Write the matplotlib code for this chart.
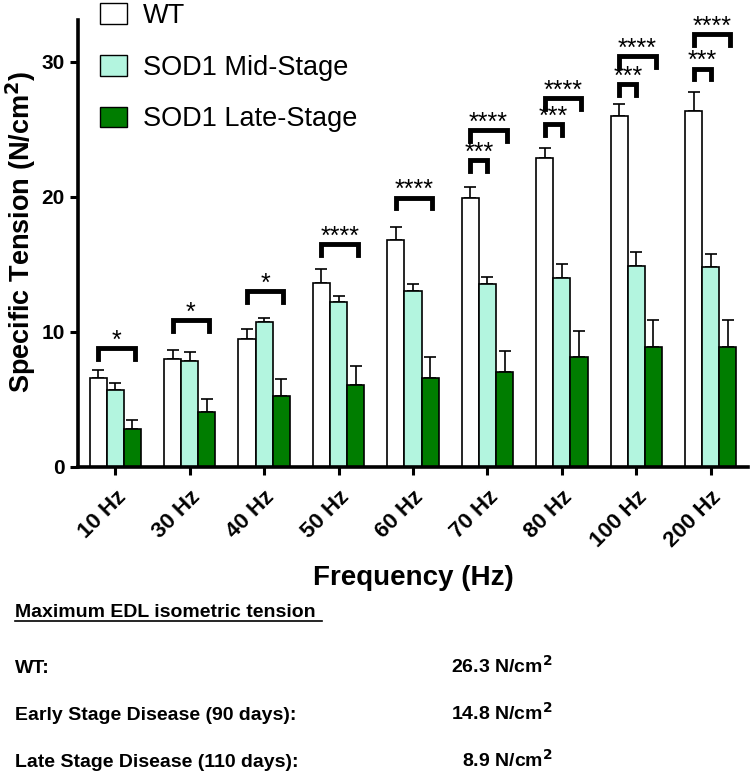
import numpy as np
import matplotlib.pyplot as plt
from matplotlib.patches import Patch
from matplotlib.lines import Line2D

freqs = ['10 Hz', '30 Hz', '40 Hz', '50 Hz', '60 Hz', '70 Hz', '80 Hz', '100 Hz', '200 Hz']
wt = [6.6, 8.0, 9.5, 13.65, 16.8, 19.95, 22.85, 26.0, 26.35]
wt_err = [0.55, 0.65, 0.7, 1.0, 1.0, 0.8, 0.8, 0.9, 1.45]
mid = [5.7, 7.85, 10.75, 12.2, 13.0, 13.55, 14.0, 14.9, 14.8]
mid_err = [0.55, 0.65, 0.3, 0.45, 0.55, 0.55, 1.05, 1.0, 1.0]
late = [2.8, 4.1, 5.25, 6.05, 6.6, 7.05, 8.15, 8.85, 8.85]
late_err = [0.65, 0.9, 1.25, 1.45, 1.55, 1.55, 1.9, 2.0, 2.0]
labels = ['WT', 'SOD1 Mid-Stage', 'SOD1 Late-Stage']
colors = ['white', '#b3f5df', '#007d00']

# (group, from series, to series, bracket height, stars)
sig = [(0, 0, 2, 8.8, '*'), (1, 0, 2, 10.85, '*'), (2, 0, 2, 13.0, '*'),
       (3, 0, 2, 16.5, '****'), (4, 0, 2, 19.95, '****'),
       (5, 0, 1, 22.7, '***'), (5, 0, 2, 24.95, '****'),
       (6, 0, 1, 25.4, '***'), (6, 0, 2, 27.3, '****'),
       (7, 0, 1, 28.35, '***'), (7, 0, 2, 30.45, '****'),
       (8, 0, 1, 29.5, '***'), (8, 0, 2, 32.05, '****')]

summary_rows = ['WT:', 'Early Stage Disease (90 days):', 'Late Stage Disease (110 days):']
summary_vals = ['26.3', '14.8', '8.9']

plt.rcParams['font.family'] = ['Liberation Sans', 'DejaVu Sans']

fig = plt.figure(figsize=(7.54, 7.75), dpi=100)
ax = fig.add_axes([78 / 754, 1 - 467 / 775, 670 / 754, 447 / 775])

x = np.arange(len(freqs))
w = 0.23
series = [(wt, wt_err), (mid, mid_err), (late, late_err)]
for i, (vals, errs) in enumerate(series):
    ax.bar(x + (i - 1) * w, vals, w, color=colors[i], edgecolor='black',
           linewidth=1.2, label=labels[i], zorder=2)
    ax.errorbar(x + (i - 1) * w, vals, yerr=[np.zeros(len(vals)), errs],
                fmt='none', ecolor='black', elinewidth=1.2, capsize=4,
                capthick=1.2, zorder=1)

for g, a, b, h, s in sig:
    x0 = g + (a - 1) * w
    x1 = g + (b - 1) * w + (0.03 if b == 2 else 0)
    ax.plot([x0, x0, x1, x1], [h - 0.8, h, h, h - 0.8], color='black',
            lw=3.5, solid_joinstyle='miter', zorder=3)
    ax.text((x0 + x1) / 2, h - 0.35, s, ha='center', va='bottom', fontsize=18)

ax.set_xlim(-0.5, 8.5)
ax.set_ylim(0, 33.1)
ax.set_yticks([0, 10, 20, 30])
ax.set_xticks(x)
ax.set_xticklabels(freqs, rotation=45, ha='right', rotation_mode='anchor',
                   fontsize=16, fontweight='bold')
for t in ax.get_yticklabels():
    t.set_fontsize(15)
    t.set_fontweight('bold')
ax.tick_params(width=2.2, length=6, direction='out')
ax.tick_params(axis='x', pad=8)
for sp in ['top', 'right']:
    ax.spines[sp].set_visible(False)
for sp in ['left', 'bottom']:
    ax.spines[sp].set_linewidth(2.6)

ax.set_ylabel('Specific Tension (N/cm$^\\mathbf{2}$)', fontsize=19.5, fontweight='bold')
ax.yaxis.set_label_coords(-0.06, 0.525)
ax.set_xlabel('Frequency (Hz)', fontsize=20, fontweight='bold', labelpad=10)

handles = [Patch(facecolor=c, edgecolor='black', linewidth=1.0) for c in colors]
fig.legend(handles, labels, loc='upper left', bbox_to_anchor=(100 / 754, 1 - 3 / 775),
           frameon=False, fontsize=19.5, handlelength=1.0, handleheight=0.8,
           handletextpad=0.6, labelspacing=0.95, borderpad=0, borderaxespad=0)

fig.text(15 / 754, 1 - 617 / 775, 'Maximum EDL isometric tension', fontsize=14,
         fontweight='bold', va='baseline')
fig.add_artist(Line2D([15 / 754, 322 / 754], [1 - 621 / 775, 1 - 621 / 775],
                      color='black', lw=1.2))
for i, (r, v) in enumerate(zip(summary_rows, summary_vals)):
    yb = 1 - (673 + 47 * i) / 775
    fig.text(15 / 754, yb, r, fontsize=14, fontweight='bold', va='baseline')
    fig.text(553 / 754, yb, v + ' N/cm$^\\mathbf{2}$', fontsize=14, fontweight='bold',
             va='baseline', ha='right')

fig.savefig('out.png', dpi=100)
